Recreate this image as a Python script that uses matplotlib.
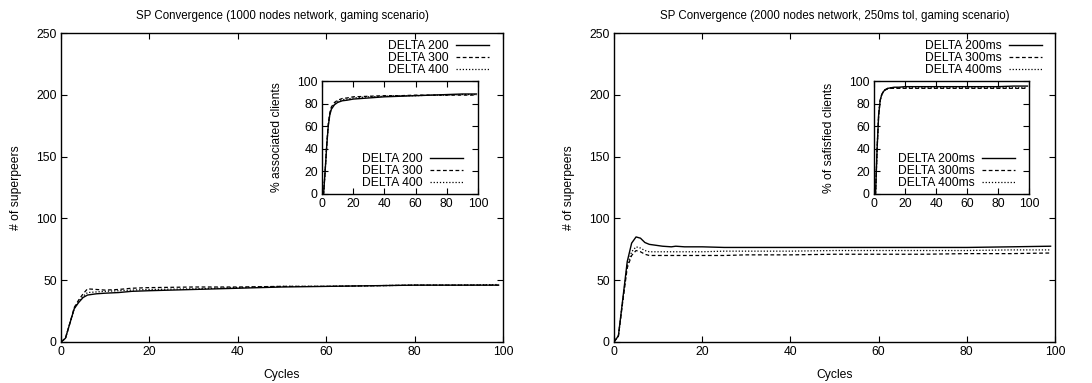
import matplotlib
matplotlib.use("Agg")
import matplotlib.pyplot as plt

plt.rcParams["font.family"] = ["Liberation Sans", "DejaVu Sans"]
plt.rcParams["font.size"] = 8.7

# ---- 1000 nodes: superpeers per cycle ----
cyc_a = [0, 1, 2, 3, 4, 5, 6, 8, 10, 13, 16, 20, 30, 40, 50, 60, 70, 80, 90, 99]
sp_a_200 = [0, 3, 15, 27, 32, 36, 38, 39, 39.5, 40, 41, 41.5, 42.5, 43.5, 44.5, 45, 45.5, 46, 46, 46]
sp_a_300 = [0, 3, 15, 28, 34, 39, 43, 42.5, 42, 42.5, 43.5, 44, 44.5, 44.5, 45, 45, 45.5, 46, 46, 46]
sp_a_400 = [0, 3, 15, 27, 33, 37, 40, 40.5, 41, 41.5, 42, 42.5, 43, 44, 45, 45, 45.5, 46, 46, 46.5]

# associated clients (%)
cl_a_200 = [0, 0, 20, 42, 60, 70, 75, 79, 81, 82.5, 83, 84, 85, 86, 86.5, 87, 87.5, 88, 88.5, 88.5]
cl_a_300 = [0, 0, 20, 43, 62, 72, 77, 81, 83, 84.5, 85, 86, 86.5, 87, 87, 87.5, 87.5, 87.5, 87.5, 87.5]
cl_a_400 = [0, 0, 20, 42, 61, 71, 76, 80, 82, 83.5, 84, 85, 86, 86.5, 87, 87, 87.5, 87.5, 88, 88]

# ---- 2000 nodes, 250ms tol ----
cyc_b = [0, 1, 2, 3, 4, 5, 6, 7, 8, 9, 11, 13, 14, 16, 20, 25, 30, 40, 50, 60, 70, 80, 90, 99]
sp_b_200 = [0, 5, 35, 65, 80, 85, 84, 80.5, 79, 78.5, 77.5, 77, 77.5, 77, 77, 76.5, 76.5, 76.5, 76.5, 76.5, 76.5, 76.5, 77, 77.5]
sp_b_300 = [0, 5, 33, 60, 70, 74, 73, 71, 70, 70, 70, 70, 70, 70, 70, 70, 70.5, 70.5, 71, 71, 71, 71.5, 71.5, 72]
sp_b_400 = [0, 5, 34, 62, 73, 77, 76, 74, 73, 73, 73, 73, 73, 73, 73, 73.5, 73.5, 73.5, 74, 74, 74, 74, 74.5, 74.5]

# satisfied clients (%)
cl_b_200 = [0, 0, 40, 70, 83, 88, 90.5, 92, 93, 93.5, 94, 94.5, 94.5, 94.5, 95, 95, 95, 95, 95, 95, 95, 95, 95.5, 95.5]
cl_b_300 = [0, 0, 40, 70, 83, 88, 90.5, 92, 92.5, 93, 93.5, 93.5, 93.5, 93.5, 93.5, 93.5, 93.5, 93.5, 93.5, 93.5, 93.5, 93.5, 93.5, 93.5]
cl_b_400 = [0, 0, 40, 70, 83, 88, 90.5, 92, 93, 93.5, 94, 94, 94, 94, 94, 94, 94, 94, 94, 94, 94, 94, 94, 94]

styles = [dict(color="black", linestyle="-", linewidth=1.0),
          dict(color="black", linestyle=(0, (3, 2)), linewidth=0.9),
          dict(color="black", linestyle=(0, (1, 1.5)), linewidth=0.9)]

leg_kw = dict(frameon=False, fontsize=8.7, handlelength=2.7, markerfirst=False,
              labelspacing=0.0, borderpad=0, borderaxespad=0, handletextpad=0.65)


def style_axes(ax, xt, yt):
    ax.set_xticks(xt)
    ax.set_yticks(yt)
    ax.tick_params(direction="in", length=4, width=0.8, top=True, right=True,
                   labelsize=8.7, pad=3)
    for s in ax.spines.values():
        s.set_linewidth(1.0)


def panel(fig, rect, inset_rect, title, labels, cyc, sp, cl, inset_ylabel,
          leg_at, ins_leg_at):
    ax = fig.add_axes(rect)
    for y, lab, st in zip(sp, labels, styles):
        ax.plot(cyc, y, label=lab, **st)
    ax.set_xlim(0, 100)
    ax.set_ylim(0, 250)
    style_axes(ax, range(0, 101, 20), range(0, 251, 50))
    ax.set_title(title, fontsize=8.3, pad=10)
    ax.set_xlabel("Cycles", labelpad=8)
    ax.set_ylabel("# of superpeers", labelpad=10)
    ax.legend(loc="upper right", bbox_to_anchor=leg_at, **leg_kw)

    ins = fig.add_axes(inset_rect)
    for y, lab, st in zip(cl, labels, styles):
        ins.plot(cyc, y, label=lab, **st)
    ins.set_xlim(0, 100)
    ins.set_ylim(0, 100)
    style_axes(ins, range(0, 101, 20), range(0, 101, 20))
    ins.set_ylabel(inset_ylabel, labelpad=10)
    ins.legend(loc="lower right", bbox_to_anchor=ins_leg_at, **leg_kw)


W, H = 1092, 383
fig = plt.figure(figsize=(W / 100, H / 100), dpi=100)


def rect(l, t, r, b):
    return [l / W, 1 - b / H, (r - l) / W, (b - t) / H]


panel(fig, rect(61, 33, 503, 342), rect(322, 81, 478, 194),
      "SP Convergence (1000 nodes network, gaming scenario)",
      ["DELTA 200", "DELTA 300", "DELTA 400"],
      cyc_a, [sp_a_200, sp_a_300, sp_a_400], [cl_a_200, cl_a_300, cl_a_400],
      "% associated clients", (0.968, 0.978), (0.904, 0.044))
panel(fig, rect(614, 33, 1055, 342), rect(874, 81, 1029, 194),
      "SP Convergence (2000 nodes network, 250ms tol, gaming scenario)",
      ["DELTA 200ms", "DELTA 300ms", "DELTA 400ms"],
      cyc_b, [sp_b_200, sp_b_300, sp_b_400], [cl_b_200, cl_b_300, cl_b_400],
      "% of safisfied clients", (0.9705, 0.978), (0.91, 0.044))

fig.savefig("out.png", dpi=100)
